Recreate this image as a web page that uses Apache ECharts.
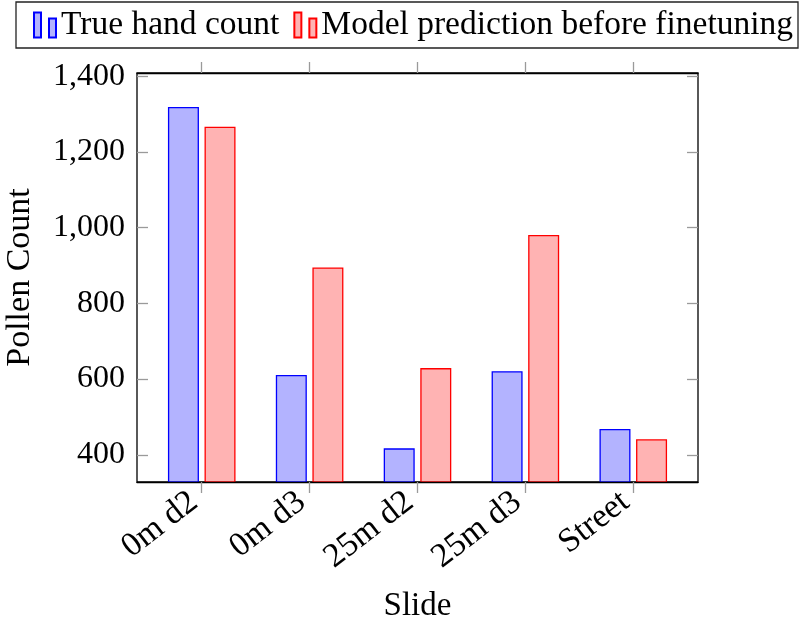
<!DOCTYPE html>
<html>
<head>
<meta charset="utf-8">
<script src="https://cdn.jsdelivr.net/npm/echarts@6/dist/echarts.min.js"></script>
<style>html,body{margin:0;padding:0;background:#fff}#c{width:802px;height:620px}</style>
</head>
<body>
<div id="c"></div>
<script>
const categories = ['0m d2', '0m d3', '25m d2', '25m d3', 'Street'];
const trueCounts = [1319, 611, 417, 621, 468];
const modelPred = [1267, 895, 629, 981, 441];
const yTicks = [400, 600, 800, 1000, 1200, 1400];
const xTicks = [0, 1, 2, 3, 4];

const FONT = '"Liberation Serif", "DejaVu Serif", serif';
const chart = echarts.init(document.getElementById('c'), null, {renderer: 'canvas'});
const tickStyle = {color: '#9a9a9a', width: 1.3};
const frameLine = {show: true, onZero: false, lineStyle: {color: '#000', width: 1.3}};
const iconPath = 'path://M0,0h7v25h-7z M15,6h7v19h-7z';

chart.setOption({
  animation: false,
  backgroundColor: '#fff',
  textStyle: {fontFamily: FONT},
  legend: {
    left: 16, top: 2, width: 786,
    orient: 'horizontal',
    borderColor: '#222', borderWidth: 1.3,
    padding: [6, 5, 6, 17],
    itemGap: 14,
    itemWidth: 22, itemHeight: 25,
    textStyle: {fontFamily: FONT, fontSize: 33.5, color: '#000'},
    data: [
      {name: 'True hand count', icon: iconPath},
      {name: 'Model prediction before finetuning', icon: iconPath}
    ]
  },
  grid: {
    left: 137, top: 73, right: 104, bottom: 138,
    outerBoundsMode: 'none',
    containLabel: false,
    show: true, borderColor: '#000', borderWidth: 1.3, backgroundColor: 'transparent'
  },
  xAxis: [
    {
      type: 'value', position: 'bottom', min: -0.6, max: 4.6, z: 5,
      name: 'Slide', nameLocation: 'middle', nameGap: 108,
      nameTextStyle: {fontFamily: FONT, fontSize: 33, color: '#000'},
      axisLine: frameLine,
      splitLine: {show: false},
      axisTick: {show: true, inside: false, length: 11, lineStyle: tickStyle, customValues: xTicks},
      axisLabel: {
        show: true, customValues: xTicks, rotate: 38, margin: 10,
        fontFamily: FONT, fontSize: 34, color: '#000',
        padding: [0, 10, 0, 0],
        formatter: v => categories[Math.round(v)]
      }
    },
    {
      type: 'value', position: 'top', min: -0.6, max: 4.6, z: 5,
      axisLine: frameLine, splitLine: {show: false},
      axisTick: {show: true, inside: false, length: 11, lineStyle: tickStyle, customValues: xTicks},
      axisLabel: {show: false}
    }
  ],
  yAxis: [
    {
      type: 'value', position: 'left', min: 328, max: 1409, z: 2,
      name: 'Pollen Count', nameLocation: 'middle', nameGap: 100, nameRotate: 90,
      nameTextStyle: {fontFamily: FONT, fontSize: 34, color: '#000'},
      axisLine: {show: false, onZero: false}, splitLine: {show: false},
      axisTick: {show: true, inside: true, length: 11, lineStyle: tickStyle, customValues: yTicks},
      axisLabel: {
        show: true, customValues: yTicks, margin: 12,
        fontFamily: FONT, fontSize: 32, color: '#000',
        formatter: v => v.toLocaleString('en-US')
      }
    },
    {
      type: 'value', position: 'right', min: 328, max: 1409, z: 2,
      axisLine: {show: false, onZero: false}, splitLine: {show: false},
      axisTick: {show: true, inside: true, length: 11, lineStyle: tickStyle, customValues: yTicks},
      axisLabel: {show: false}
    }
  ],
  series: [
    {
      name: 'True hand count', type: 'bar', xAxisIndex: 0, yAxisIndex: 0,
      barWidth: 31, barGap: '18%',
      itemStyle: {color: '#b3b3ff', borderColor: '#0000ff', borderWidth: 1.3},
      data: trueCounts.map((v, i) => [i, v])
    },
    {
      name: 'Model prediction before finetuning', type: 'bar', xAxisIndex: 0, yAxisIndex: 0,
      barWidth: 31, barGap: '18%',
      itemStyle: {color: '#ffb3b3', borderColor: '#ff0000', borderWidth: 1.3},
      data: modelPred.map((v, i) => [i, v])
    }
  ]
});
</script>
</body>
</html>
